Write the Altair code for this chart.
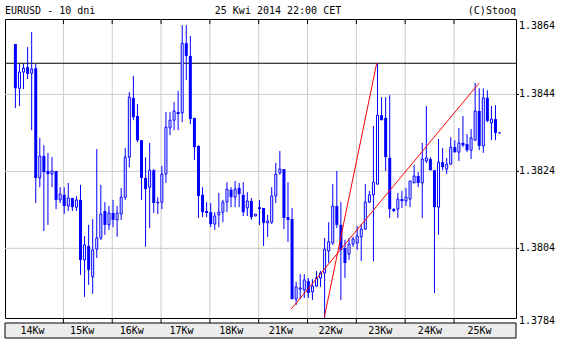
import altair as alt
import pandas as pd

symbol_title = "EURUSD - 10 dni"
date_title = "25 Kwi 2014 22:00 CET"
credit = "(C)Stooq"
day_labels = ["14Kw", "15Kw", "16Kw", "17Kw", "18Kw", "21Kw", "22Kw", "23Kw", "24Kw", "25Kw"]

opens = [1.38571, 1.38456, 1.38498, 1.38511, 1.38495, 1.38508, 1.38223, 1.38280, 1.38241, 1.38233,
         1.38241, 1.38166, 1.38179, 1.38150, 1.38171, 1.38147, 1.38166, 1.38010, 1.38046, 1.37966,
         1.38038, 1.38067, 1.38137, 1.38101, 1.38132, 1.38114, 1.38129, 1.38173, 1.38277, 1.38431,
         1.38384, 1.38321, 1.38223, 1.38199, 1.38243, 1.38158, 1.38160, 1.38233, 1.38353, 1.38373,
         1.38394, 1.38392, 1.38573, 1.38540, 1.38379, 1.38306, 1.38179, 1.38137, 1.38134, 1.38103,
         1.38127, 1.38134, 1.38160, 1.38192, 1.38173, 1.38197, 1.38179, 1.38145, 1.38163, 1.38124,
         1.38147, 1.38145, 1.38106, 1.38108, 1.38176, 1.38236, 1.38246, 1.38121, 1.38116, 1.37908,
         1.37934, 1.37932, 1.37955, 1.37927, 1.37942, 1.37963, 1.37976, 1.38033, 1.38054, 1.38150,
         1.38101, 1.38041, 1.38025, 1.38051, 1.38054, 1.38070, 1.38090, 1.38160, 1.38179, 1.38207,
         1.38386, 1.38379, 1.38275, 1.38142, 1.38142, 1.38168, 1.38163, 1.38168, 1.38210, 1.38228,
         1.38210, 1.38267, 1.38272, 1.38243, 1.38147, 1.38264, 1.38246, 1.38259, 1.38303, 1.38290,
         1.38314, 1.38311, 1.38295, 1.38321, 1.38397, 1.38306, 1.38431, 1.38366, 1.38376, 1.38340]
highs = [1.38571, 1.38519, 1.38519, 1.38563, 1.38602, 1.38519, 1.38327, 1.38308, 1.38288, 1.38277,
         1.38241, 1.38199, 1.38199, 1.38210, 1.38171, 1.38176, 1.38205, 1.38072, 1.38101, 1.38116,
         1.38298, 1.38205, 1.38160, 1.38150, 1.38166, 1.38150, 1.38197, 1.38301, 1.38446, 1.38488,
         1.38415, 1.38321, 1.38277, 1.38314, 1.38246, 1.38173, 1.38254, 1.38394, 1.38394, 1.38420,
         1.38449, 1.38620, 1.38620, 1.38592, 1.38379, 1.38308, 1.38199, 1.38160, 1.38158, 1.38134,
         1.38184, 1.38166, 1.38212, 1.38199, 1.38215, 1.38210, 1.38212, 1.38186, 1.38171, 1.38129,
         1.38166, 1.38145, 1.38127, 1.38199, 1.38262, 1.38293, 1.38246, 1.38212, 1.38145, 1.37953,
         1.37973, 1.37973, 1.37963, 1.37960, 1.37981, 1.37981, 1.38067, 1.38108, 1.38207, 1.38241,
         1.38160, 1.38062, 1.38067, 1.38070, 1.38098, 1.38103, 1.38207, 1.38189, 1.38358, 1.38521,
         1.38433, 1.38433, 1.38438, 1.38145, 1.38184, 1.38189, 1.38197, 1.38215, 1.38257, 1.38238,
         1.38314, 1.38410, 1.38277, 1.38243, 1.38324, 1.38301, 1.38275, 1.38329, 1.38321, 1.38353,
         1.38384, 1.38337, 1.38350, 1.38470, 1.38456, 1.38456, 1.38451, 1.38410, 1.38412, 1.38340]
lows = [1.38405, 1.38410, 1.38454, 1.38480, 1.38347, 1.38158, 1.38199, 1.38085, 1.38101, 1.38199,
        1.38142, 1.38158, 1.38129, 1.38137, 1.38137, 1.38137, 1.37971, 1.37914, 1.37945, 1.37922,
        1.38015, 1.38062, 1.38075, 1.38088, 1.38095, 1.38070, 1.38114, 1.38166, 1.38251, 1.38373,
        1.38316, 1.38166, 1.38044, 1.38093, 1.38132, 1.38129, 1.38142, 1.38210, 1.38334, 1.38347,
        1.38347, 1.38368, 1.38477, 1.38363, 1.38270, 1.38119, 1.38121, 1.38121, 1.38095, 1.38088,
        1.38095, 1.38108, 1.38134, 1.38147, 1.38147, 1.38147, 1.38124, 1.38124, 1.38114, 1.38124,
        1.38101, 1.38046, 1.38070, 1.38103, 1.38158, 1.38231, 1.38090, 1.38057, 1.37908, 1.37893,
        1.37908, 1.37911, 1.37911, 1.37906, 1.37940, 1.37940, 1.37859, 1.38002, 1.38049, 1.38093,
        1.37906, 1.37963, 1.38010, 1.38044, 1.38036, 1.38007, 1.38088, 1.38158, 1.38007, 1.38205,
        1.38373, 1.38241, 1.38119, 1.38134, 1.38119, 1.38145, 1.38150, 1.38147, 1.38210, 1.38199,
        1.38119, 1.38262, 1.38243, 1.37924, 1.38075, 1.38243, 1.38233, 1.38257, 1.38288, 1.38267,
        1.38303, 1.38290, 1.38272, 1.38319, 1.38295, 1.38288, 1.38368, 1.38321, 1.38321, 1.38340]
closes = [1.38456, 1.38498, 1.38508, 1.38493, 1.38506, 1.38223, 1.38280, 1.38238, 1.38233, 1.38241,
          1.38166, 1.38181, 1.38150, 1.38171, 1.38147, 1.38166, 1.38010, 1.38049, 1.37984, 1.38036,
          1.38067, 1.38129, 1.38101, 1.38132, 1.38114, 1.38132, 1.38173, 1.38277, 1.38433, 1.38381,
          1.38321, 1.38223, 1.38194, 1.38243, 1.38158, 1.38160, 1.38233, 1.38355, 1.38373, 1.38397,
          1.38389, 1.38573, 1.38540, 1.38376, 1.38303, 1.38176, 1.38134, 1.38132, 1.38103, 1.38124,
          1.38134, 1.38160, 1.38194, 1.38173, 1.38194, 1.38181, 1.38134, 1.38163, 1.38121, 1.38129,
          1.38142, 1.38106, 1.38111, 1.38176, 1.38233, 1.38246, 1.38119, 1.38114, 1.37908, 1.37940,
          1.37937, 1.37958, 1.37924, 1.37942, 1.37963, 1.37976, 1.38038, 1.38057, 1.38150, 1.38101,
          1.38036, 1.38002, 1.38051, 1.38064, 1.38072, 1.38090, 1.38160, 1.38179, 1.38212, 1.38386,
          1.38373, 1.38277, 1.38142, 1.38137, 1.38168, 1.38163, 1.38173, 1.38215, 1.38228, 1.38210,
          1.38272, 1.38275, 1.38243, 1.38147, 1.38264, 1.38251, 1.38259, 1.38303, 1.38290, 1.38314,
          1.38308, 1.38295, 1.38327, 1.38397, 1.38306, 1.38431, 1.38371, 1.38376, 1.38340, 1.38340]

price_labels = ["1.3864", "1.3844", "1.3824", "1.3804", "1.3784"]
price_label_pos = [1.38617, 1.3844, 1.3824, 1.3804, 1.37851]
grid_prices = [1.3844, 1.3824, 1.3804]
ref_level = 1.38521
trend_a_idx = [67.76, 113.93]
trend_a_px = [1.37882, 1.38469]
trend_b_idx = [75.95, 88.80]
trend_b_px = [1.37862, 1.38521]

W, H = 511, 299
XDOM = [-1.325, 121.81]
YDOM = [1.37859, 1.38636]
BLUE = "#0000ff"
FONT = "DejaVu Sans Mono"

n = len(opens)
candles = pd.DataFrame({
    "i": list(range(n)), "open": opens, "high": highs, "low": lows, "close": closes,
})
candles["up"] = candles["close"] >= candles["open"]

bounds = pd.DataFrame({"i": [12 * k - 0.2 for k in range(1, 10)]})
days = pd.DataFrame({"i": [4.2 + 12.21 * k for k in range(10)], "t": day_labels})
hgrid = pd.DataFrame({"p": grid_prices})
ylabels = pd.DataFrame({"p": price_label_pos, "t": price_labels})
trends = pd.DataFrame({
    "i": trend_a_idx + trend_b_idx,
    "p": trend_a_px + trend_b_px,
    "g": ["a", "a", "b", "b"],
})
ref = pd.DataFrame({"p": [ref_level]})
one = pd.DataFrame({"k": [0]})

xs = alt.Scale(domain=XDOM, nice=False, zero=False)
ys = alt.Scale(domain=YDOM, nice=False, zero=False)

vgrid = alt.Chart(bounds).mark_rule(color="#cccccc", strokeWidth=1).encode(
    x=alt.X("i:Q", scale=xs, axis=None))
hgrid_l = alt.Chart(hgrid).mark_rule(color="#cccccc", strokeWidth=1).encode(
    y=alt.Y("p:Q", scale=ys, axis=None))
top_ticks = alt.Chart(bounds).mark_rule(color="black").encode(
    x=alt.X("i:Q", scale=xs, axis=None), y=alt.value(0), y2=alt.value(5))
bot_ticks = alt.Chart(bounds).mark_rule(color="black").encode(
    x=alt.X("i:Q", scale=xs, axis=None), y=alt.value(299), y2=alt.value(306))
right_ticks = alt.Chart(hgrid).mark_rule(color="black").encode(
    y=alt.Y("p:Q", scale=ys, axis=None), x=alt.value(511), x2=alt.value(514))
ref_line = alt.Chart(ref).mark_rule(color="black", strokeWidth=1).encode(
    y=alt.Y("p:Q", scale=ys, axis=None))

wicks = alt.Chart(candles).mark_rule(color=BLUE, strokeWidth=1).encode(
    x=alt.X("i:Q", scale=xs, axis=None),
    y=alt.Y("low:Q", scale=ys, axis=None), y2="high:Q")
bodies_dn = alt.Chart(candles).transform_filter("!datum.up").mark_bar(
    size=3, color=BLUE).encode(
    x=alt.X("i:Q", scale=xs, axis=None),
    y=alt.Y("open:Q", scale=ys, axis=None), y2="close:Q")
bodies_up = alt.Chart(candles).transform_filter("datum.up").mark_bar(
    size=2, fill="white", stroke=BLUE, strokeWidth=1).encode(
    x=alt.X("i:Q", scale=xs, axis=None),
    y=alt.Y("open:Q", scale=ys, axis=None), y2="close:Q")

trend_lines = alt.Chart(trends).mark_line(color="#ff0000", strokeWidth=1).encode(
    x=alt.X("i:Q", scale=xs, axis=None),
    y=alt.Y("p:Q", scale=ys, axis=None), detail="g:N")

band = alt.Chart(one).mark_rect(fill="#ececec", stroke="black", strokeWidth=1).encode(
    x=alt.value(0), x2=alt.value(511), y=alt.value(304), y2=alt.value(319))
band_text = alt.Chart(days).mark_text(font=FONT, fontSize=10, color="black",
                                      baseline="middle", align="center").encode(
    x=alt.X("i:Q", scale=xs, axis=None), y=alt.value(312), text="t:N")
ylab = alt.Chart(ylabels).mark_text(font=FONT, fontSize=10, color="black",
                                    baseline="middle", align="left").encode(
    x=alt.value(514), y=alt.Y("p:Q", scale=ys, axis=None), text="t:N")

t1 = alt.Chart(one).mark_text(font=FONT, fontSize=10, align="left", baseline="alphabetic",
                              color="black").encode(
    x=alt.value(0), y=alt.value(-5), text=alt.value(symbol_title))
t2 = alt.Chart(one).mark_text(font=FONT, fontSize=10, align="center", baseline="alphabetic",
                              color="black").encode(
    x=alt.value(273), y=alt.value(-5), text=alt.value(date_title))
t3 = alt.Chart(one).mark_text(font=FONT, fontSize=10, align="right", baseline="alphabetic",
                              color="black").encode(
    x=alt.value(511), y=alt.value(-5), text=alt.value(credit))

chart = alt.layer(
    vgrid, hgrid_l, top_ticks, bot_ticks, right_ticks, ref_line,
    wicks, bodies_dn, bodies_up, trend_lines,
    band, band_text, ylab, t1, t2, t3,
).properties(
    width=W, height=H,
    padding={"left": 5, "top": 19, "right": 49, "bottom": 24},
    autosize=alt.AutoSizeParams(type="none"),
    background="white",
).configure_view(stroke="black", strokeWidth=1)

chart.save("out.html", embed_options={"renderer": "svg", "actions": False})
